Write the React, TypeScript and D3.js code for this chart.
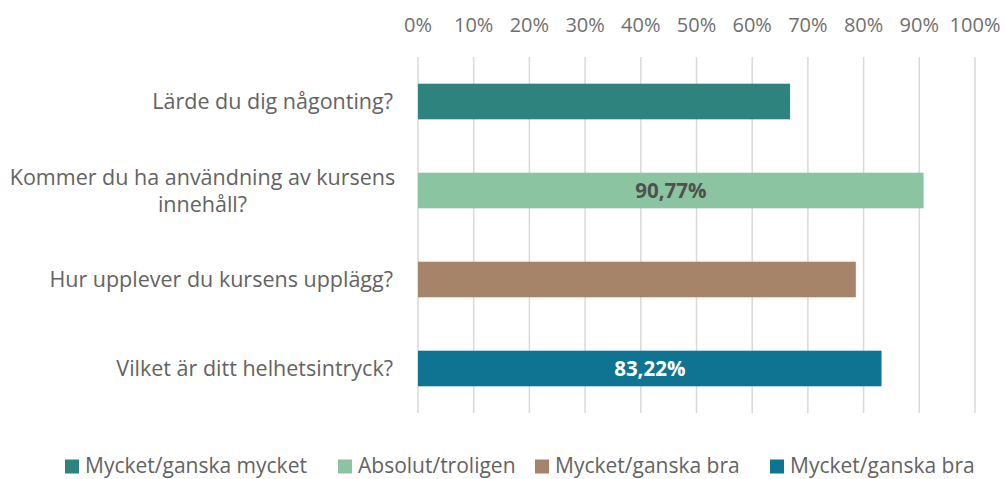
import React from "react";
import * as d3 from "d3";

const categories = [
  "Lärde du dig någonting?",
  "Kommer du ha användning av kursens innehåll?",
  "Hur upplever du kursens upplägg?",
  "Vilket är ditt helhetsintryck?",
];
const categoryLines = [
  ["Lärde du dig någonting?"],
  ["Kommer du ha användning av kursens", "innehåll?"],
  ["Hur upplever du kursens upplägg?"],
  ["Vilket är ditt helhetsintryck?"],
];
const values = [0.668, 0.9077, 0.786, 0.8322];
const showLabel = [false, true, false, true];
const seriesNames = ["Mycket/ganska mycket", "Absolut/troligen", "Mycket/ganska bra", "Mycket/ganska bra"];
const colors = ["#2E837F", "#8AC4A1", "#A5846A", "#0F7492"];
const labelColors = ["#404040", "#505050", "#404040", "#FFFFFF"];
const tickValues = [0, 0.1, 0.2, 0.3, 0.4, 0.5, 0.6, 0.7, 0.8, 0.9, 1.0];

const W = 1005;
const H = 479;
const FONT = "'Open Sans', sans-serif";

export default function App() {
  const x = d3.scaleLinear().domain([0, 1]).range([418, 975]);
  const y = d3.scaleBand<number>().domain(d3.range(categories.length)).range([57, 413]).paddingInner(0.6).paddingOuter(0.3);
  const fmt = (v: number) => d3.format(".2f")(v * 100).replace(".", ",") + "%";
  const legendX = [65, 338, 535, 770];

  return (
    <svg width={W} height={H} style={{ position: "absolute", left: 0, top: 0, background: "#fff" }}>
      {tickValues.map((t, i) => (
        <g key={i}>
          <line x1={x(t)} x2={x(t)} y1={57} y2={413} stroke="#D9D9D9" strokeWidth={1.5} />
          <text x={x(t)} y={31.5} textAnchor="middle" fontFamily={FONT} fontSize={20} fill="#6F6F6F">
            {d3.format(".0%")(t)}
          </text>
        </g>
      ))}
      {values.map((v, i) => {
        const y0 = y(i)!;
        const bh = y.bandwidth();
        return (
          <g key={i}>
            <rect x={x(0)} y={y0} width={x(v) - x(0)} height={bh} fill={colors[i]} />
            {showLabel[i] && (
              <text x={(x(0) + x(v)) / 2} y={y0 + bh / 2 + 7.5} textAnchor="middle" fontFamily={FONT} fontWeight="bold" fontSize={20.5} fill={labelColors[i]}>
                {fmt(v)}
              </text>
            )}
            {categoryLines[i].map((ln, j) => {
              const n = categoryLines[i].length;
              const cy = y0 + bh / 2 + 7.5 + (j - (n - 1) / 2) * 27;
              return (
                <text key={j} x={n > 1 ? 202.5 : 393} y={cy} textAnchor={n > 1 ? "middle" : "end"} fontFamily={FONT} fontSize={21.5} fill="#636363">
                  {ln}
                </text>
              );
            })}
          </g>
        );
      })}
      {seriesNames.map((s, i) => (
        <g key={i}>
          <rect x={legendX[i]} y={459.5} width={14} height={14} fill={colors[i]} />
          <text x={legendX[i] + 20} y={473} fontFamily={FONT} fontSize={21} fill="#636363">
            {s}
          </text>
        </g>
      ))}
    </svg>
  );
}
